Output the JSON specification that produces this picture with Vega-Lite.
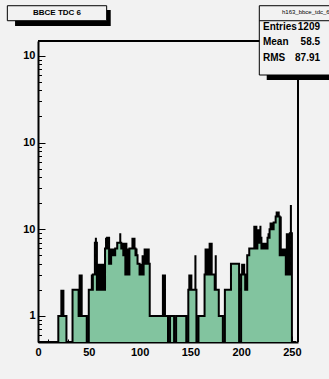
{
  "$schema": "https://vega.github.io/schema/vega-lite/v6.json",
  "width": 260,
  "height": 301,
  "autosize": {"type": "none"},
  "padding": {"left": 38, "top": 41, "right": 31, "bottom": 37},
  "background": "#f2f2f2",
  "config": {
    "view": {"stroke": null},
    "font": "Liberation Sans",
    "axis": {
      "domainColor": "black", "domainWidth": 2, "tickColor": "black", "tickWidth": 1,
      "labelFont": "Liberation Sans", "labelFontWeight": "bold", "labelFontSize": 11,
      "labelColor": "black", "grid": false, "title": null,
      "labelFlush": false, "labelOverlap": false, "labelBound": false
    }
  },
  "data": {"values": [
    {"x0":0,"x1":2,"outer":0,"inner":0},{"x0":2,"x1":4,"outer":0,"inner":0},{"x0":4,"x1":6,"outer":0,"inner":0},{"x0":6,"x1":8,"outer":0,"inner":0},
    {"x0":8,"x1":10,"outer":0,"inner":0},{"x0":10,"x1":12,"outer":0,"inner":0},{"x0":12,"x1":14,"outer":0,"inner":0},{"x0":14,"x1":16,"outer":0,"inner":0},
    {"x0":16,"x1":18,"outer":0,"inner":0},{"x0":18,"x1":20,"outer":0,"inner":0},{"x0":20,"x1":22,"outer":1,"inner":1},{"x0":22,"x1":24,"outer":2,"inner":1},
    {"x0":24,"x1":26,"outer":2,"inner":1},{"x0":26,"x1":28,"outer":1,"inner":1},{"x0":28,"x1":30,"outer":0,"inner":0},{"x0":30,"x1":32,"outer":0,"inner":0},
    {"x0":32,"x1":34,"outer":0,"inner":0},{"x0":34,"x1":36,"outer":2,"inner":2},{"x0":36,"x1":38,"outer":2,"inner":2},{"x0":38,"x1":40,"outer":2,"inner":2},
    {"x0":40,"x1":42,"outer":3,"inner":1},{"x0":42,"x1":44,"outer":3,"inner":1},{"x0":44,"x1":46,"outer":1,"inner":1},{"x0":46,"x1":48,"outer":1,"inner":1},
    {"x0":48,"x1":50,"outer":0,"inner":0},{"x0":50,"x1":52,"outer":2,"inner":2},{"x0":52,"x1":54,"outer":3,"inner":2},{"x0":54,"x1":56,"outer":3,"inner":3},
    {"x0":56,"x1":58,"outer":8,"inner":7},{"x0":58,"x1":60,"outer":4,"inner":2},{"x0":60,"x1":62,"outer":4,"inner":2},{"x0":62,"x1":64,"outer":4,"inner":2},
    {"x0":64,"x1":66,"outer":4,"inner":2},{"x0":66,"x1":68,"outer":8,"inner":6},{"x0":68,"x1":70,"outer":8,"inner":8},{"x0":70,"x1":72,"outer":6,"inner":4},
    {"x0":72,"x1":74,"outer":6,"inner":5},{"x0":74,"x1":76,"outer":6,"inner":5},{"x0":76,"x1":78,"outer":6,"inner":6},{"x0":78,"x1":80,"outer":7,"inner":7},
    {"x0":80,"x1":82,"outer":9,"inner":7},{"x0":82,"x1":84,"outer":7,"inner":6},{"x0":84,"x1":86,"outer":7,"inner":5},{"x0":86,"x1":88,"outer":7,"inner":3},
    {"x0":88,"x1":90,"outer":6,"inner":3},{"x0":90,"x1":92,"outer":6,"inner":6},{"x0":92,"x1":94,"outer":8,"inner":6},{"x0":94,"x1":96,"outer":8,"inner":6},
    {"x0":96,"x1":98,"outer":6,"inner":5},{"x0":98,"x1":100,"outer":4,"inner":4},{"x0":100,"x1":102,"outer":4,"inner":3},{"x0":102,"x1":104,"outer":5,"inner":3},
    {"x0":104,"x1":106,"outer":6,"inner":4},{"x0":106,"x1":108,"outer":6,"inner":4},{"x0":108,"x1":110,"outer":6,"inner":4},{"x0":110,"x1":112,"outer":1,"inner":1},
    {"x0":112,"x1":114,"outer":1,"inner":1},{"x0":114,"x1":116,"outer":1,"inner":1},{"x0":116,"x1":118,"outer":1,"inner":1},{"x0":118,"x1":120,"outer":1,"inner":1},
    {"x0":120,"x1":122,"outer":1,"inner":1},{"x0":122,"x1":124,"outer":3,"inner":1},{"x0":124,"x1":126,"outer":3,"inner":1},{"x0":126,"x1":128,"outer":1,"inner":1},
    {"x0":128,"x1":130,"outer":0,"inner":0},{"x0":130,"x1":132,"outer":1,"inner":1},{"x0":132,"x1":134,"outer":1,"inner":1},{"x0":134,"x1":136,"outer":0,"inner":0},
    {"x0":136,"x1":138,"outer":1,"inner":1},{"x0":138,"x1":140,"outer":1,"inner":1},{"x0":140,"x1":142,"outer":1,"inner":1},{"x0":142,"x1":144,"outer":1,"inner":1},
    {"x0":144,"x1":146,"outer":1,"inner":1},{"x0":146,"x1":148,"outer":0,"inner":0},{"x0":148,"x1":150,"outer":3,"inner":2},{"x0":150,"x1":152,"outer":3,"inner":2},
    {"x0":152,"x1":154,"outer":2,"inner":2},{"x0":154,"x1":156,"outer":5,"inner":2},{"x0":156,"x1":158,"outer":0,"inner":0},{"x0":158,"x1":160,"outer":1,"inner":1},
    {"x0":160,"x1":162,"outer":1,"inner":1},{"x0":162,"x1":164,"outer":1,"inner":1},{"x0":164,"x1":166,"outer":6,"inner":3},{"x0":166,"x1":168,"outer":6,"inner":3},
    {"x0":168,"x1":170,"outer":7,"inner":3},{"x0":170,"x1":172,"outer":7,"inner":3},{"x0":172,"x1":174,"outer":3,"inner":3},{"x0":174,"x1":176,"outer":5,"inner":2},
    {"x0":176,"x1":178,"outer":2,"inner":2},{"x0":178,"x1":180,"outer":1,"inner":1},{"x0":180,"x1":182,"outer":1,"inner":1},{"x0":182,"x1":184,"outer":0,"inner":0},
    {"x0":184,"x1":186,"outer":2,"inner":2},{"x0":186,"x1":188,"outer":2,"inner":2},{"x0":188,"x1":190,"outer":2,"inner":2},{"x0":190,"x1":192,"outer":4,"inner":4},
    {"x0":192,"x1":194,"outer":4,"inner":4},{"x0":194,"x1":196,"outer":4,"inner":4},{"x0":196,"x1":198,"outer":4,"inner":4},{"x0":198,"x1":200,"outer":0,"inner":0},
    {"x0":200,"x1":202,"outer":4,"inner":3},{"x0":202,"x1":204,"outer":4,"inner":3},{"x0":204,"x1":206,"outer":3,"inner":2},{"x0":206,"x1":208,"outer":5,"inner":5},
    {"x0":208,"x1":210,"outer":6,"inner":6},{"x0":210,"x1":212,"outer":6,"inner":6},{"x0":212,"x1":214,"outer":11,"inner":6},{"x0":214,"x1":216,"outer":11,"inner":6},
    {"x0":216,"x1":218,"outer":10,"inner":7},{"x0":218,"x1":220,"outer":11,"inner":8},{"x0":220,"x1":222,"outer":7,"inner":6},{"x0":222,"x1":224,"outer":7,"inner":6},
    {"x0":224,"x1":226,"outer":7,"inner":6},{"x0":226,"x1":228,"outer":9,"inner":8},{"x0":228,"x1":230,"outer":12,"inner":10},{"x0":230,"x1":232,"outer":12,"inner":10},
    {"x0":232,"x1":234,"outer":12,"inner":12},{"x0":234,"x1":236,"outer":16,"inner":14},{"x0":236,"x1":238,"outer":16,"inner":14},{"x0":238,"x1":240,"outer":14,"inner":5},
    {"x0":240,"x1":242,"outer":6,"inner":5},{"x0":242,"x1":244,"outer":6,"inner":5},{"x0":244,"x1":246,"outer":9,"inner":3},{"x0":246,"x1":248,"outer":9,"inner":3},
    {"x0":248,"x1":250,"outer":19,"inner":9},{"x0":250,"x1":252,"outer":0,"inner":0},{"x0":252,"x1":254,"outer":0,"inner":0},{"x0":254,"x1":256,"outer":0,"inner":0}
  ]},
  "resolve": {"scale": {"y": "independent"}, "axis": {"x": "independent", "y": "independent"}},
  "layer": [
    {
      "mark": {"type": "area", "interpolate": "step-after", "color": "black", "opacity": 1},
      "encoding": {
        "x": {"field": "x0", "type": "quantitative", "scale": {"domain": [0, 256], "nice": false, "zero": false},
              "axis": {"orient": "bottom", "values": [0, 50, 100, 150, 200, 250], "ticks": false, "labelPadding": 4, "domain": true}},
        "y": {"field": "outer", "type": "quantitative", "scale": {"type": "log", "domain": [0.5, 1486], "nice": false, "clamp": true},
              "axis": {"orient": "left", "values": [1, 10, 100, 1000], "ticks": false, "labelPadding": 3, "domain": true, "labelExpr": "datum.value == 1 ? '1' : '10'"}},
        "y2": {"datum": 0.5}
      }
    },
    {
      "mark": {"type": "area", "interpolate": "step-after", "color": "#82c49f", "opacity": 1},
      "encoding": {
        "x": {"field": "x0", "type": "quantitative", "scale": {"domain": [0, 256], "nice": false, "zero": false},
              "axis": {"orient": "bottom", "values": [0, 50, 100, 150, 200, 250], "tickSize": -6, "labels": false, "domain": false}},
        "y": {"field": "inner", "type": "quantitative", "scale": {"type": "log", "domain": [0.5, 1486], "nice": false, "clamp": true},
              "axis": {"orient": "left", "values": [1, 10, 100, 1000], "tickSize": -7, "labels": false, "domain": false}},
        "y2": {"datum": 0.5}
      }
    },
    {
      "mark": {"type": "line", "interpolate": "step-after", "color": "black", "strokeWidth": 2},
      "encoding": {
        "x": {"field": "x0", "type": "quantitative", "scale": {"domain": [0, 256], "nice": false, "zero": false},
              "axis": {"orient": "bottom", "values": [10, 20, 30, 40, 60, 70, 80, 90, 110, 120, 130, 140, 160, 170, 180, 190, 210, 220, 230, 240], "tickSize": -3, "labels": false, "domain": false}},
        "y": {"field": "inner", "type": "quantitative", "scale": {"type": "log", "domain": [0.5, 1486], "nice": false, "clamp": true},
              "axis": {"orient": "left", "values": [0.6, 0.7, 0.8, 0.9, 2, 3, 4, 5, 6, 7, 8, 9, 20, 30, 40, 50, 60, 70, 80, 90, 200, 300, 400, 500, 600, 700, 800, 900], "tickSize": -3.5, "labels": false, "domain": false}}
      }
    },
    {
      "data": {"values": [{}]},
      "mark": {"type": "rule", "color": "black", "strokeWidth": 2},
      "encoding": {
        "x": {"datum": 0, "type": "quantitative", "scale": {"domain": [0, 256], "nice": false, "zero": false}, "axis": null},
        "x2": {"datum": 256},
        "y": {"datum": 1486, "type": "quantitative", "scale": {"type": "log", "domain": [0.5, 1486], "nice": false, "clamp": true}, "axis": null}
      }
    },
    {
      "data": {"values": [{}]},
      "mark": {"type": "rule", "color": "black", "strokeWidth": 2},
      "encoding": {
        "x": {"datum": 256, "type": "quantitative", "scale": {"domain": [0, 256], "nice": false, "zero": false}, "axis": null},
        "y": {"datum": 0.5, "type": "quantitative", "scale": {"type": "log", "domain": [0.5, 1486], "nice": false, "clamp": true}, "axis": null},
        "y2": {"datum": 1486}
      }
    },
    {
      "data": {"values": [{}]},
      "mark": {"type": "rect", "color": "black", "clip": false},
      "encoding": {
        "x": {"datum": -22.6, "type": "quantitative", "scale": {"domain": [0, 256], "nice": false, "zero": false}, "axis": null},
        "x2": {"datum": 71.6},
        "y": {"datum": 3386, "type": "quantitative", "scale": {"type": "log", "domain": [0.5, 1486], "nice": false}, "axis": null},
        "y2": {"datum": 2213}
      }
    },
    {
      "data": {"values": [{}]},
      "mark": {"type": "rect", "fill": "#f2f2f2", "stroke": "black", "strokeWidth": 1, "clip": false},
      "encoding": {
        "x": {"datum": -30.2, "type": "quantitative", "scale": {"domain": [0, 256], "nice": false, "zero": false}, "axis": null},
        "x2": {"datum": 67.6},
        "y": {"datum": 3793, "type": "quantitative", "scale": {"type": "log", "domain": [0.5, 1486], "nice": false}, "axis": null},
        "y2": {"datum": 2547}
      }
    },
    {
      "data": {"values": [{}]},
      "mark": {"type": "text", "text": "BBCE TDC 6", "font": "Liberation Sans", "fontWeight": "bold", "fontSize": 8, "align": "center", "baseline": "middle", "color": "black", "clip": false},
      "encoding": {
        "x": {"datum": 18.7, "type": "quantitative", "scale": {"domain": [0, 256], "nice": false, "zero": false}, "axis": null},
        "y": {"datum": 3151, "type": "quantitative", "scale": {"type": "log", "domain": [0.5, 1486], "nice": false}, "axis": null}
      }
    },
    {
      "data": {"values": [{}]},
      "mark": {"type": "rect", "color": "black", "clip": false},
      "encoding": {
        "x": {"datum": 225.2, "type": "quantitative", "scale": {"domain": [0, 256], "nice": false, "zero": false}, "axis": null},
        "x2": {"datum": 292.4},
        "y": {"datum": 3386, "type": "quantitative", "scale": {"type": "log", "domain": [0.5, 1486], "nice": false}, "axis": null},
        "y2": {"datum": 527}
      }
    },
    {
      "data": {"values": [{}]},
      "mark": {"type": "rect", "fill": "#f2f2f2", "stroke": "black", "strokeWidth": 1, "clip": false},
      "encoding": {
        "x": {"datum": 217.9, "type": "quantitative", "scale": {"domain": [0, 256], "nice": false, "zero": false}, "axis": null},
        "x2": {"datum": 292.4},
        "y": {"datum": 3793, "type": "quantitative", "scale": {"type": "log", "domain": [0.5, 1486], "nice": false}, "axis": null},
        "y2": {"datum": 602}
      }
    },
    {
      "data": {"values": [{}]},
      "mark": {"type": "rule", "color": "black", "strokeWidth": 1, "clip": false},
      "encoding": {
        "x": {"datum": 217.9, "type": "quantitative", "scale": {"domain": [0, 256], "nice": false, "zero": false}, "axis": null},
        "x2": {"datum": 292.4},
        "y": {"datum": 2547, "type": "quantitative", "scale": {"type": "log", "domain": [0.5, 1486], "nice": false}, "axis": null}
      }
    },
    {
      "data": {"values": [{}]},
      "mark": {"type": "text", "text": "h163_bbce_tdc_6", "font": "Liberation Sans", "fontSize": 6, "align": "left", "baseline": "middle", "color": "black", "clip": false},
      "encoding": {
        "x": {"datum": 240.2, "type": "quantitative", "scale": {"domain": [0, 256], "nice": false, "zero": false}, "axis": null},
        "y": {"datum": 3210, "type": "quantitative", "scale": {"type": "log", "domain": [0.5, 1486], "nice": false}, "axis": null}
      }
    },
    {
      "data": {"values": [{}]},
      "mark": {"type": "text", "text": ["Entries", "Mean", "RMS"], "lineHeight": 15.5, "font": "Liberation Sans", "fontWeight": "bold", "fontSize": 10, "align": "left", "baseline": "middle", "color": "black", "clip": false},
      "encoding": {
        "x": {"datum": 221.5, "type": "quantitative", "scale": {"domain": [0, 256], "nice": false, "zero": false}, "axis": null},
        "y": {"datum": 2156, "type": "quantitative", "scale": {"type": "log", "domain": [0.5, 1486], "nice": false}, "axis": null}
      }
    },
    {
      "data": {"values": [{}]},
      "mark": {"type": "text", "text": ["1209", "58.5", "87.91"], "lineHeight": 15.5, "font": "Liberation Sans", "fontWeight": "bold", "fontSize": 10, "align": "right", "baseline": "middle", "color": "black", "clip": false},
      "encoding": {
        "x": {"datum": 277.7, "type": "quantitative", "scale": {"domain": [0, 256], "nice": false, "zero": false}, "axis": null},
        "y": {"datum": 2156, "type": "quantitative", "scale": {"type": "log", "domain": [0.5, 1486], "nice": false}, "axis": null}
      }
    }
  ]
}
